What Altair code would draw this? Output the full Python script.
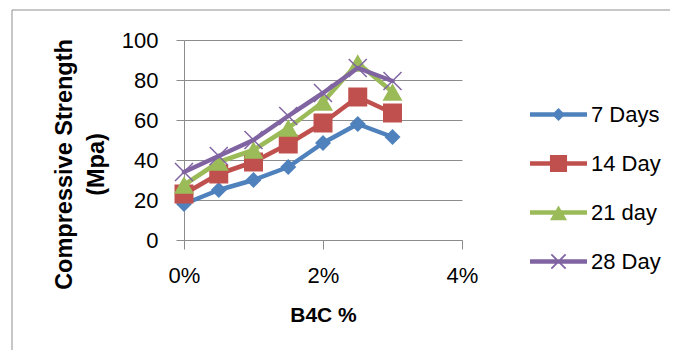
import altair as alt
import pandas as pd

# ---- data ----
b4c = [0, 0.5, 1, 1.5, 2, 2.5, 3]
series_names = ["7 Days", "14 Day", "21 day", "28 Day"]
days7 = [18, 25, 30, 36.5, 48.5, 58, 51.5]
days14 = [23, 33, 39, 48, 58.5, 71.5, 63.5]
days21 = [27.5, 39, 45, 56, 69, 88.5, 74]
days28 = [34, 42, 50, 62, 73.5, 86, 79.5]
colors = ["#4F81BD", "#C0504D", "#9BBB59", "#8064A2"]
y_ticks = [0, 20, 40, 60, 80, 100]
x_ticks = [0, 2, 4]

values = [days7, days14, days21, days28]
rows = []
for name, vals in zip(series_names, values):
    for x, v in zip(b4c, vals):
        rows.append({"series": name, "b4c": x, "strength": v})
df = pd.DataFrame(rows)

FONT = "Liberation Sans"
GRAY = "#8c8c8c"

x_enc = alt.X(
    "b4c:Q",
    scale=alt.Scale(domain=[0, 4], nice=False),
    axis=alt.Axis(
        values=x_ticks, labelExpr="datum.value + '%'", grid=False, labelFlush=False,
        domainColor=GRAY, tickColor=GRAY, tickSize=9, labelPadding=16,
        labelFont=FONT, labelFontSize=22, labelColor="black",
        title="B4C %", titleFont=FONT, titleFontSize=21, titleFontWeight="bold",
        titleColor="black", titleX=139, titleY=75, titleBaseline="middle",
    ),
)
y_enc = alt.Y(
    "strength:Q",
    scale=alt.Scale(domain=[0, 100], nice=False),
    axis=alt.Axis(
        values=y_ticks, grid=True, gridColor=GRAY, domainColor=GRAY, labelFlush=False,
        tickColor=GRAY, tickSize=8, labelPadding=18,
        labelFont=FONT, labelFontSize=22, labelColor="black",
        title=["Compressive Strength", "(Mpa)"], titleFont=FONT,
        titleFontSize=23.5, titleFontWeight="bold", titleColor="black",
        titleX=-120, titleY=124, titleBaseline="middle", titleLineHeight=32,
    ),
)

CROSS = "M-1,-1L1,1M-1,1L1,-1"
point_marks = [
    dict(shape="diamond", filled=True, size=256),
    dict(shape="square", filled=True, size=361),
    dict(shape="triangle-up", filled=True, size=400),
    dict(shape=CROSS, filled=False, size=324, strokeWidth=1.5),
]

# legend symbols: line + marker, as filled paths
t = 0.08
line_p = f"M-1,{-t}L1,{-t}L1,{t}L-1,{t}Z"
a, d = 0.25, 0.022
legend_paths = [
    line_p + "M0,-0.23L0.23,0L0,0.23L-0.23,0Z",
    line_p + "M-0.3,-0.3L0.3,-0.3L0.3,0.3L-0.3,0.3Z",
    line_p + "M0,-0.25L0.3,0.27L-0.3,0.27Z",
    line_p
    + f"M{-a+d},{-a-d}L{a+d},{a-d}L{a-d},{a+d}L{-a-d},{-a+d}Z"
    + f"M{-a+d},{a+d}L{-a-d},{a-d}L{a-d},{-a-d}L{a+d},{-a+d}Z",
]

layers = []
border = alt.Chart(pd.DataFrame({"k": [0]})).mark_rect(
    fill=None, stroke="#8f8f8f", strokeWidth=1
).encode(
    x=alt.value(-172), y=alt.value(-30), x2=alt.value(700), y2=alt.value(500)
)
layers.append(border)

for name, col, pm in zip(series_names, colors, point_marks):
    sub = df[df["series"] == name]
    base = alt.Chart(sub)
    layers.append(
        base.mark_line(color=col, strokeWidth=4.5, strokeJoin="round", strokeCap="round")
        .encode(x=x_enc, y=y_enc)
    )
    layers.append(
        base.mark_point(color=col, opacity=1, **pm).encode(x=x_enc, y=y_enc)
    )

leg = alt.Legend(
    orient="none", legendX=346, legendY=46, title=None, padding=0,
    labelFont=FONT, labelFontSize=22, labelColor="black", labelOffset=4,
    symbolSize=3249, symbolStrokeWidth=0, symbolOpacity=1, rowPadding=9,
)
legend_layer = alt.Chart(df).mark_point(filled=True, opacity=0).encode(
    x=x_enc, y=y_enc,
    color=alt.Color("series:N", scale=alt.Scale(domain=series_names, range=colors), legend=leg),
    shape=alt.Shape("series:N", scale=alt.Scale(domain=series_names, range=legend_paths), legend=leg),
)
layers.append(legend_layer)

chart = alt.layer(*layers).properties(
    width=278, height=200,
    autosize=alt.AutoSizeParams(type="none"),
    padding={"left": 176, "top": 32, "right": 208, "bottom": 110},
).configure_view(stroke=None)

chart.save("out.html", embed_options={"renderer": "svg", "actions": False})
